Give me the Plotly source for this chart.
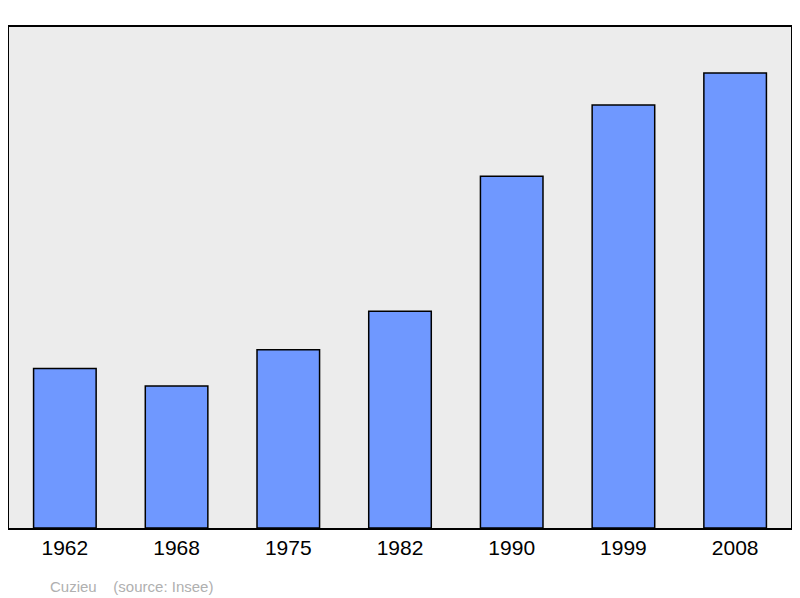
import plotly.graph_objects as go

years = ["1962", "1968", "1975", "1982", "1990", "1999", "2008"]
population = [524, 466, 585, 712, 1155, 1389, 1494]
labels = ["524", "466", "585", "712", "1 155", "1 389", "1 494"]

fig = go.Figure(go.Bar(
    x=years, y=population,
    marker=dict(color="#6f98ff", line=dict(color="black", width=1.5)),
    width=0.56,
))
anns = [dict(x=x, y=y, text=t, xref="x", yref="y", showarrow=False, yanchor="bottom",
             yshift=11, font=dict(size=19, color="black", family="Liberation Sans"))
        for x, y, t in zip(years, population, labels)]
anns.append(dict(text="Cuzieu &nbsp;&nbsp;&nbsp;(source: Insee)", xref="paper", yref="paper",
                 x=0.05, y=-0.095, xanchor="left", yanchor="top", showarrow=False,
                 font=dict(size=15, color="#b0b0b0")))
fig.update_layout(
    width=800, height=598,
    margin=dict(l=1, r=17, t=19, b=78),
    plot_bgcolor="#ececec", paper_bgcolor="white",
    font=dict(family="Liberation Sans", color="black"),
    xaxis=dict(tickfont=dict(size=21), showline=True, linecolor="black", linewidth=2,
               mirror=True, ticks="", range=[-0.5, 6.5]),
    yaxis=dict(range=[0, 1645], showticklabels=False, showgrid=False, zeroline=False,
               showline=True, linecolor="black", linewidth=2, mirror=True),
    showlegend=False,
    annotations=anns,
)
fig.write_html("out.html")
